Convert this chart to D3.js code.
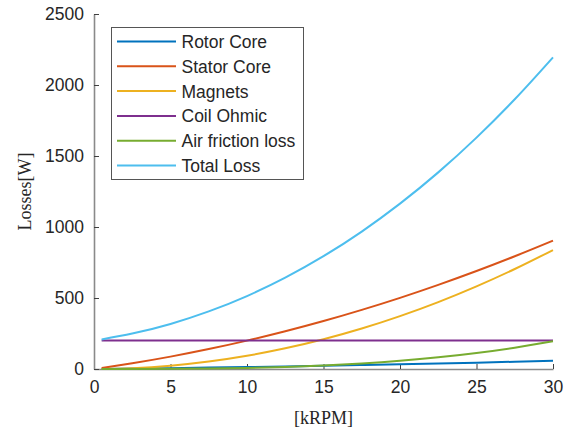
<!DOCTYPE html>
<html>
<head>
<meta charset="utf-8">
<script src="https://cdn.jsdelivr.net/npm/d3@7"></script>
<style>
  html, body { margin: 0; padding: 0; background: #fff; }
  svg { display: block; }
</style>
</head>
<body>
<svg id="chart" width="579" height="433"></svg>
<script>
// Shaft speed in kRPM
const speed = [0.5, 2.5, 5, 7.5, 10, 12.5, 15, 17.5, 20, 22.5, 25, 27.5, 30];

// Loss components in watts
const rotorCore   = [0.6, 2.9, 6.1, 9.7, 13.6, 17.9, 22.6, 27.7, 33.0, 38.7, 44.8, 51.2, 58.0];
const statorCore  = [7.6, 40.5, 87.2, 140.4, 199.8, 265.7, 337.8, 416.4, 501.2, 592.5, 690.0, 794.0, 904.0];
const magnets     = [0.2, 5.8, 23.3, 52.4, 93.1, 145.5, 209.5, 285.1, 372.4, 471.3, 581.9, 704.1, 837.9];
const coilOhmic   = [200, 200, 200, 200, 200, 200, 200, 200, 200, 200, 200, 200, 200];
const airFriction = [0.0, 0.1, 0.9, 3.0, 7.2, 14.1, 24.4, 38.7, 57.8, 82.2, 112.8, 150.2, 194.9];
const totalLoss   = [208.4, 249.3, 317.5, 405.5, 513.7, 643.2, 794.3, 967.9, 1164.4, 1384.7, 1629.5, 1899.5, 2194.8];

const seriesNames = ["Rotor Core", "Stator Core", "Magnets", "Coil Ohmic", "Air friction loss", "Total Loss"];
const seriesValues = [rotorCore, statorCore, magnets, coilOhmic, airFriction, totalLoss];
const seriesColors = ["#0072BD", "#D95319", "#EDB120", "#7E2F8E", "#77AC30", "#4DBEEE"];

const xTicks = [0, 5, 10, 15, 20, 25, 30];
const yTicks = [0, 500, 1000, 1500, 2000, 2500];

const plot = { left: 94, right: 553, top: 14, bottom: 369 };
const sansFont = "'Liberation Sans', Arial, Helvetica, sans-serif";
const serifFont = "'Liberation Serif', 'Times New Roman', serif";
const textColor = "#262626";

const svg = d3.select("#chart");

const x = d3.scaleLinear().domain([0, 30]).range([plot.left, plot.right]);
const y = d3.scaleLinear().domain([0, 2500]).range([plot.bottom, plot.top]);

// Axes: ticks point inward, lines only on the left and bottom
const xAxis = d3.axisBottom(x).tickValues(xTicks).tickFormat(d3.format("d"))
  .tickSizeInner(-5).tickSizeOuter(0).tickPadding(12);
const yAxis = d3.axisLeft(y).tickValues(yTicks).tickFormat(d3.format("d"))
  .tickSizeInner(-5).tickSizeOuter(0).tickPadding(10);

const gx = svg.append("g").attr("transform", `translate(0,${plot.bottom})`).call(xAxis);
const gy = svg.append("g").attr("transform", `translate(${plot.left},0)`).call(yAxis);

[gx, gy].forEach(g => {
  g.select(".domain").attr("stroke", "#8a8a8a").attr("stroke-width", 1.6);
  g.selectAll(".tick line").attr("stroke", "#404040").attr("stroke-width", 1);
  g.selectAll(".tick text")
    .attr("fill", textColor)
    .style("font-family", sansFont)
    .style("font-size", "17.5px");
});
gx.selectAll(".tick text").attr("dy", "0.71em");

// Axis titles
svg.append("text")
  .attr("x", (plot.left + plot.right) / 2)
  .attr("y", 424)
  .attr("text-anchor", "middle")
  .attr("fill", textColor)
  .style("font-family", serifFont)
  .style("font-size", "18px")
  .text("[kRPM]");

svg.append("text")
  .attr("transform", `translate(31,${(plot.top + plot.bottom) / 2}) rotate(-90)`)
  .attr("text-anchor", "middle")
  .attr("fill", textColor)
  .style("font-family", serifFont)
  .style("font-size", "18px")
  .text("Losses[W]");

// Loss curves
const line = d3.line()
  .x((d, i) => x(speed[i]))
  .y(d => y(d))
  .curve(d3.curveMonotoneX);

svg.append("g")
  .selectAll("path")
  .data(seriesValues)
  .join("path")
  .attr("d", d => line(d))
  .attr("fill", "none")
  .attr("stroke", (d, i) => seriesColors[i])
  .attr("stroke-width", 2);

// Legend
const legend = svg.append("g");
legend.append("rect")
  .attr("x", 111.5).attr("y", 27.5)
  .attr("width", 192).attr("height", 152)
  .attr("fill", "#fff")
  .attr("stroke", "#555")
  .attr("stroke-width", 1);

const rows = legend.selectAll("g.row")
  .data(seriesNames)
  .join("g")
  .attr("class", "row")
  .attr("transform", (d, i) => `translate(0,${41.5 + i * 24.8})`);

rows.append("line")
  .attr("x1", 117).attr("x2", 176)
  .attr("y1", 0).attr("y2", 0)
  .attr("stroke", (d, i) => seriesColors[i])
  .attr("stroke-width", 2);

rows.append("text")
  .attr("x", 181.5)
  .attr("y", 6.4)
  .attr("fill", textColor)
  .style("font-family", sansFont)
  .style("font-size", "17.5px")
  .text(d => d);
</script>
</body>
</html>
